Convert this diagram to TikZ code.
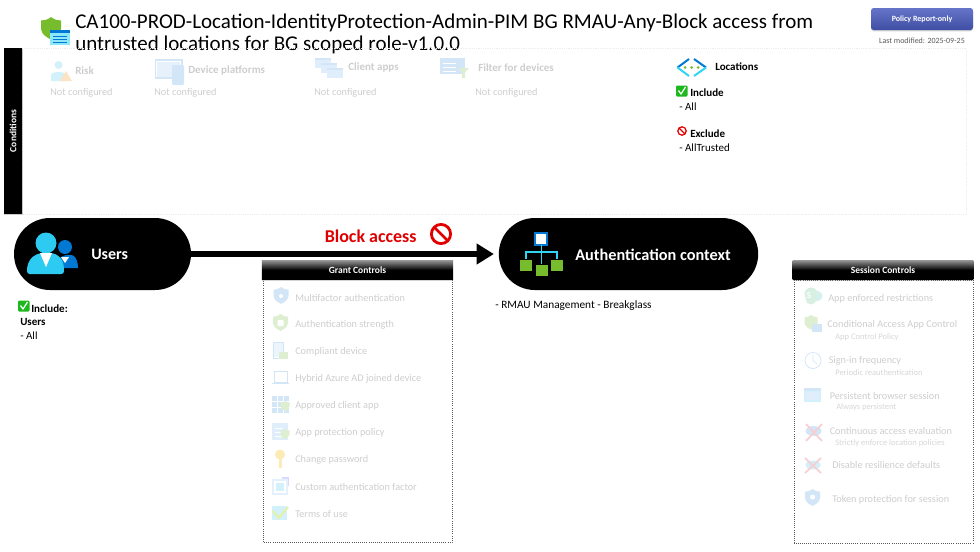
\documentclass[tikz,border=0pt]{standalone}
\usepackage{fontspec}
\setmainfont{Carlito}
\usetikzlibrary{arrows.meta,shapes.misc,shadows,calc}
\definecolor{faint}{HTML}{CDCDCD}
\definecolor{faintsub}{HTML}{D6D6D6}
\definecolor{paleblue}{HTML}{D3E6F8}
\definecolor{palecyan}{HTML}{D2F1FB}
\definecolor{palegreen}{HTML}{DDEFD0}
\definecolor{paleorange}{HTML}{FBE3C4}
\definecolor{palered}{HTML}{F6CFD3}
\definecolor{paleyellow}{HTML}{FCEBB5}
\definecolor{azure}{HTML}{0078D4}
\definecolor{cyanb}{HTML}{32D4F5}
\definecolor{greenb}{HTML}{76BC2D}
\definecolor{checkg}{HTML}{1DB81D}
\definecolor{blockred}{HTML}{E00000}
\definecolor{btn}{HTML}{4A5CC0}
\newcommand{\fs}[1]{\fontsize{\dimexpr#1pt*3/4\relax}{\dimexpr#1pt\relax}\selectfont}
\tikzset{
  x=0.75pt,y=-0.75pt,
  txt/.style={anchor=west,inner sep=0pt,yshift=-.6pt,text=black,font=\fs{11}},
  bold/.style={txt,font=\fs{11}\bfseries},
  off/.style={txt,text=faint,font=\fs{10.25}},
  offhead/.style={txt,text=faint,font=\fs{11}\bfseries},
  offsub/.style={txt,text=faintsub,font=\fs{8.5}},
  pill/.style={rounded rectangle,fill=black,draw=none,inner sep=0pt,minimum height=54pt},
  ctlhead/.style={top color=black!45,bottom color=black,middle color=black,inner sep=0pt,text=white,font=\fs{9.5}\bfseries,minimum height=13.8pt,drop shadow={shadow xshift=0pt,shadow yshift=-1pt,opacity=.35}},
  dotbox/.style={draw=black!65,densely dotted,line width=.6pt},
  condbox/.style={draw=black!7,densely dotted,line width=.35pt},
}
\newcommand{\checkicon}[2]{%
  \fill[checkg,rounded corners=.8pt] (#1,#2) rectangle ++(11.5,11);
  \draw[white,line width=.9pt] (#1+2.5,#2+5) -- (#1+5,#2+8.5) -- (#1+9.5,#2+1.5);}
\newcommand{\noicon}[3]{%
  \draw[blockred,line width=#3*.22pt] (#1,#2) circle[radius=#3];
  \draw[blockred,line width=#3*.22pt] (#1,#2)+(-#3*.7,-#3*.7) -- +(#3*.7,#3*.7);}
\newcommand{\pshield}[4]{% x y half-width colour
  \fill[#4] (#1,#2) .. controls (#1+#3*.35,#2+#3*.3) and (#1+#3*.7,#2+#3*.35) .. (#1+#3,#2+#3*.35)
   -- (#1+#3,#2+#3*1.2) .. controls (#1+#3*.95,#2+#3*1.8) and (#1+#3*.3,#2+#3*2.1) .. (#1,#2+#3*2.25)
   .. controls (#1-#3*.3,#2+#3*2.1) and (#1-#3*.95,#2+#3*1.8) .. (#1-#3,#2+#3*1.2)
   -- (#1-#3,#2+#3*.35) .. controls (#1-#3*.7,#2+#3*.35) and (#1-#3*.35,#2+#3*.3) .. (#1,#2) -- cycle;}
\begin{document}
\begin{tikzpicture}
\useasboundingbox (0,0) rectangle (980,551);
% title
\pshield{51}{17}{10}{greenb}
\fill[cyanb!55] (50,30) rectangle (70,45);
\fill[azure] (50,30) rectangle (70,33);
\foreach \yy in {36,39,42}{\draw[azure,line width=.7pt] (53,\yy) -- (67,\yy);}
\node[txt,font=\fs{21}] (t1) at (75,22) {CA100-PROD-Location-IdentityProtection-Admin-PIM BG RMAU-Any-Block access from};
\node[txt,font=\fs{21}] (t2) at (75,44) {untrusted locations for BG scoped role-v1.0.0};
% report button
\node[top color=btn!85!white,bottom color=btn!85!black,inner sep=0pt,rounded corners=2pt,minimum width=76.5pt,minimum height=16.5pt,text=white,font=\fs{8}\bfseries,drop shadow={shadow xshift=0pt,shadow yshift=-1pt,opacity=.35}] (report) at (922,19) {Policy Report-only};
\node[txt,anchor=center,text=black!65,font=\fs{8}] (mod) at (922,40) {Last modified: 2025-09-25};
% conditions
\draw[condbox] (22,48) rectangle (966,214);
\node[fill=black,inner sep=0pt,minimum width=14.2pt,minimum height=125pt,drop shadow={shadow xshift=.5pt,shadow yshift=-.7pt,opacity=.4}] (condbar) at (13,131) {};
\node[rotate=90,inner sep=0pt,text=white,font=\fs{9.5}\bfseries] (condlab) at (13,131) {Conditions};
% risk
\fill[palecyan] (58.5,65) circle[radius=4];
\fill[palecyan] (51,81) -- (51,75) .. controls (51,71) and (66,71) .. (66,75) -- (66,81) -- cycle;
\fill[paleorange] (66,71) -- (72,81) -- (60,81) -- cycle;
\node[offhead] (risk) at (75,70) {Risk};
\node[off] (n1) at (50,92) {Not configured};
% device
\draw[paleblue,line width=.8pt,fill=white] (155.5,60) rectangle (182,78);
\fill[paleblue!55] (157,62) rectangle (180,77);
\fill[paleblue,rounded corners=.8pt] (172,65) rectangle (184,85);
\node[offhead] (dev) at (188,70) {Device platforms};
\node[off] (n2) at (154,92) {Not configured};
% client apps
\foreach \xa/\ya in {315/58,321/63,327/68}{
 \fill[paleblue!70] (\xa,\ya) rectangle ++(16,10);
 \fill[paleblue] (\xa,\ya) rectangle ++(16,2);}
\node[offhead] (cli) at (348,67) {Client apps};
\node[off] (n3) at (314,92) {Not configured};
% filter
\fill[paleblue] (440,58) rectangle (465,74);
\foreach \yy in {63,67,71}{\draw[white,line width=.5pt] (443,\yy) -- (456,\yy);}
\fill[palegreen] (458,68) -- (469,68) -- (465,72) -- (465,78) -- (462,78) -- (462,72) -- cycle;
\node[offhead] (fil) at (478,67) {Filter for devices};
\node[off] (n4) at (475,92) {Not configured};
% locations
\draw[azure,line width=1.5pt] (689,59) -- (677.5,67.5);
\draw[cyanb,line width=1.5pt] (677.5,67.5) -- (689,76);
\draw[azure,line width=1.5pt] (694,59) -- (706,67.5);
\draw[cyanb,line width=1.5pt] (706,67.5) -- (694,76);
\foreach \xd in {685,691.5,698}{\fill[greenb] (\xd,67.5) circle[radius=1.5];}
\node[bold] (loc) at (715,66) {Locations};
\checkicon{676}{85.5}
\node[bold] (inc) at (690,92) {Include};
\node[txt] (inca) at (679,106) {- All};
\noicon{682}{131}{4.2}
\node[bold] (exc) at (690,132.5) {Exclude};
\node[txt] (exca) at (679,146.5) {- AllTrusted};
% pills
\node[pill,minimum width=132.75pt] (users) at (102.5,254) {};
\node[pill,minimum width=194.5pt] (auth) at (628.5,254) {};
\draw[line width=4.5pt,-{Triangle[length=13pt,width=15pt]},shorten >=3.5pt] (users.east) -- (auth.west);
% users icon
\fill[azure] (65,247) circle[radius=7];
\fill[azure] (57,268) -- (57,262) .. controls (60,254) and (71,254) .. (74,256) .. controls (77,259) and (78,264) .. (78,268) -- cycle;
\fill[white] (61,257) -- (69,257) -- (65,263) -- cycle;
\fill[cyanb!90!azure] (46,243) circle[radius=10.5];
\fill[cyanb!90!azure,rounded corners=2pt] (27,274) -- (27,268) .. controls (30,256) and (38,254) .. (40,253) -- (52,253) .. controls (55,254) and (62,256) .. (64,268) -- (64,274) -- cycle;
\fill[white] (40,253) -- (52,253) -- (46,267) -- cycle;
\node[txt,text=white,font=\fs{16}\bfseries] (ulab) at (91,254) {Users};
% auth icon
\draw[azure,fill=white,line width=1.2pt] (535,233) rectangle (547,245);
\draw[cyanb,line width=1.4pt] (541.5,245) -- (541.5,264) (526,259) -- (526,252) -- (557,252) -- (557,259);
\fill[greenb] (520,259.5) rectangle (532,270.5);
\fill[greenb] (536,264.5) rectangle (547.5,275.5);
\fill[greenb] (551,259.5) rectangle (563,270.5);
\node[txt,text=white,font=\fs{16.3}\bfseries] (alab) at (575,254.5) {Authentication context};
% block
\node[txt,text=blockred,font=\fs{18}\bfseries] (block) at (324.5,235) {Block access};
\noicon{441}{234}{9.6}
% user text
\checkicon{18}{300.5}
\node[bold] (uinc) at (31,307.5) {Include:};
\node[bold] (uu) at (20,321) {Users};
\node[txt] (ua) at (20,334.5) {- All};
\node[txt,font=\fs{11.3}] (ctx) at (495,304.5) {- RMAU Management - Breakglass};
% grant
\draw[dotbox] (263,279) rectangle (452,542.5);
\node[ctlhead,minimum width=143.6pt] (gh) at (357.5,270) {Grant Controls};
\node[off] (g1) at (295,297) {Multifactor authentication};
\node[off] (g2) at (295,324) {Authentication strength};
\node[off] (g3) at (295,351) {Compliant device};
\node[off] (g4) at (295,378) {Hybrid Azure AD joined device};
\node[off] (g5) at (295,405) {Approved client app};
\node[off] (g6) at (295,432) {App protection policy};
\node[off] (g7) at (295,459) {Change password};
\node[off] (g8) at (295,486) {Custom authentication factor};
\node[off] (g9) at (295,513) {Terms of use};
% grant icons
\pshield{281}{287}{7.5}{paleblue}
\fill[white] (281,296) circle[radius=2];
\pshield{280.5}{314}{7.5}{palegreen}
\fill[white,rounded corners=.5pt] (277.5,320) rectangle (283.5,326);
\draw[paleblue,line width=.7pt] (273.5,342) rectangle (283,358);
\fill[paleblue!40] (274,343) rectangle (282.5,357);
\fill[palegreen] (279,352) rectangle (288,359);
\draw[paleblue,line width=.6pt] (274,371) rectangle (287,382.5);
\draw[paleblue,line width=1pt] (272,383.5) -- (289,383.5);
\foreach \xa in {272,278,284}{\foreach \ya in {396,402,408}{\fill[paleblue] (\xa,\ya) rectangle ++(4.5,4.5);}}
\pshield{285}{401}{4.5}{palegreen}
\fill[paleblue!70] (272,423) rectangle (288,440);
\foreach \yy in {428,432,436}{\draw[white,line width=.5pt] (275,\yy) -- (283,\yy);}
\pshield{285}{429}{4.5}{palegreen}
\fill[paleyellow] (280,454.5) circle[radius=5];
\fill[paleyellow] (278.5,456) rectangle (281.5,468);
\draw[paleblue!60,line width=1pt] (273,480) rectangle (287,494);
\fill[palecyan] (276,483) rectangle (284,491);
\draw[blue!15,line width=.8pt] (282,478) -- (288.5,478) -- (288.5,486);
\fill[palecyan] (272,506) rectangle (287,520);
\draw[palegreen!80!yellow,line width=1.6pt] (273,511) -- (279,518) -- (288,507);
% session
\draw[dotbox] (794,280) rectangle (973,543);
\node[ctlhead,minimum width=135.5pt] (sh) at (883,270) {Session Controls};
\node[off] (s1) at (828,297.5) {App enforced restrictions};
\node[off] (s2) at (827,323.5) {Conditional Access App Control};
\node[offsub] (s2b) at (835,336) {App Control Policy};
\node[off] (s3) at (828.5,360) {Sign-in frequency};
\node[offsub] (s3b) at (835,371.5) {Periodic reauthentication};
\node[off] (s4) at (829.5,395) {Persistent browser session};
\node[offsub] (s4b) at (836,406) {Always persistent};
\node[off] (s5) at (829.5,430) {Continuous access evaluation};
\node[offsub] (s5b) at (835,442) {Strictly enforce location policies};
\node[off] (s6) at (832,464.5) {Disable resilience defaults};
\node[off] (s7) at (832,498.5) {Token protection for session};
% session icons
\fill[palecyan!70!palegreen] (814.5,296) ellipse[x radius=8,y radius=5.5];
\fill[palegreen!60!palecyan] (811,294) circle[radius=6.5];
\fill[palegreen!60!palecyan] (811,299) circle[radius=5.5];
\node[inner sep=0pt,text=white,font=\fs{9}\bfseries] (sicon) at (809,295.5) {S};
\pshield{811}{315}{6.5}{palegreen}
\fill[paleblue] (812,324) rectangle (822,332);
\draw[paleblue,line width=.6pt] (813,360.5) circle[radius=8];
\draw[paleblue,line width=.5pt] (813,355) -- (813,360.5) -- (817,364);
\fill[palecyan] (804,388) rectangle (821,402);
\fill[paleblue] (804,388) rectangle (821,391);
\fill[paleblue!70] (806,392) rectangle (819,400);
\fill[paleblue] (813.5,431) ellipse[x radius=8,y radius=5];
\draw[palered,line width=1.3pt] (806,424) -- (822,441) (822,424) -- (806,441);
\fill[palecyan!80!paleblue] (813,465) ellipse[x radius=7.5,y radius=4.5];
\draw[palered,line width=1.3pt] (805,458) -- (821,473) (821,458) -- (805,473);
\pshield{812.5}{489}{7.5}{paleblue}
\fill[white] (812.5,497) circle[radius=2.5];
\end{tikzpicture}
\end{document}
